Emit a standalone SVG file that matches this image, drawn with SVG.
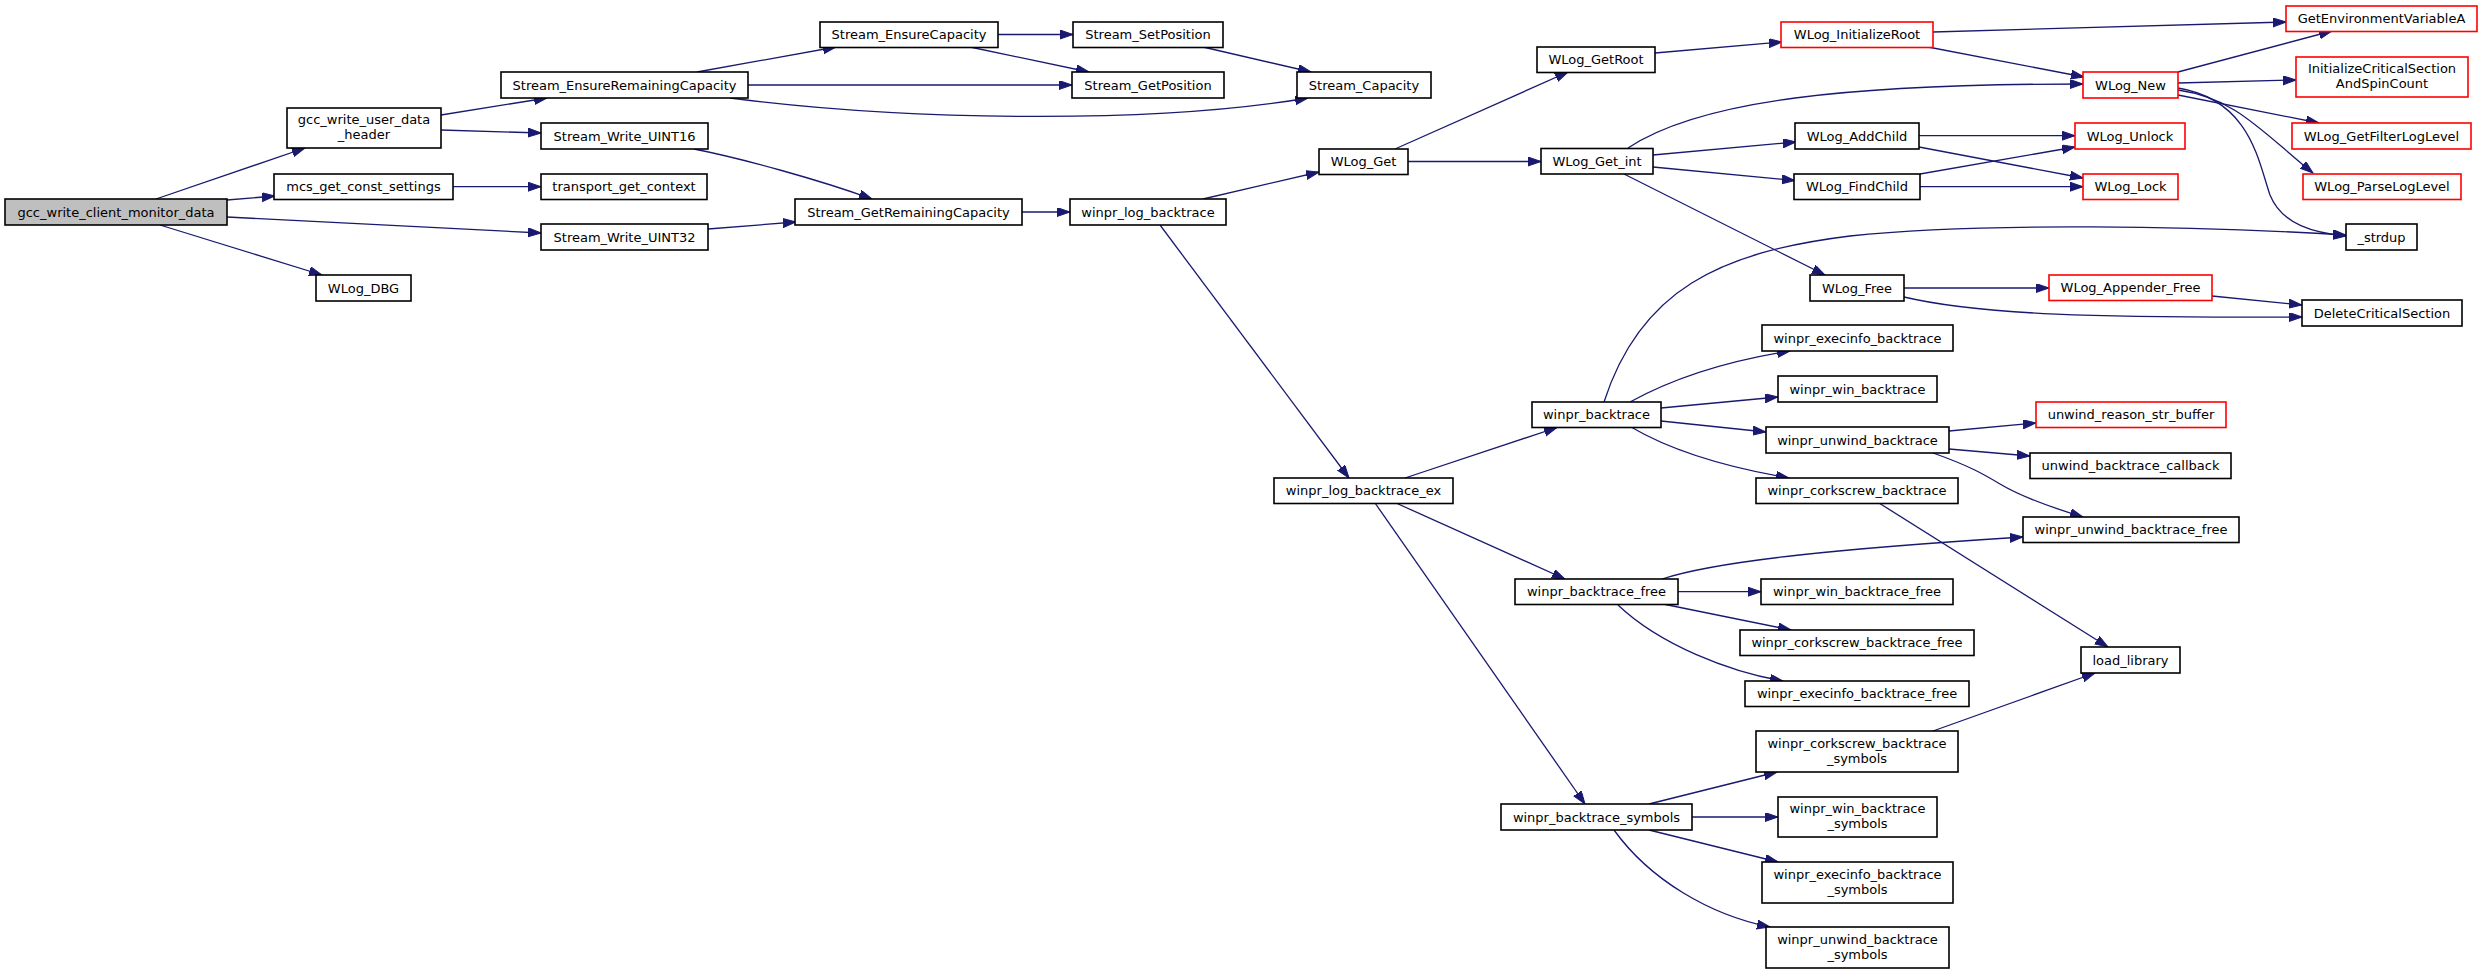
<svg xmlns="http://www.w3.org/2000/svg" width="2483" height="974" viewBox="0 0 2483 974">
<style>
.node rect{fill:#ffffff;stroke:#000000;stroke-width:1.6}
.node.red rect{stroke:#ff0000}
.node.root rect{fill:#bfbfbf}
.node text{font-family:"DejaVu Sans","Liberation Sans",sans-serif;font-size:13px;fill:#000000;text-anchor:middle}
#edges path{fill:none;stroke:#191970;stroke-width:1.3;marker-end:url(#arr)}
</style>
<defs>
<marker id="arr" markerUnits="userSpaceOnUse" markerWidth="14" markerHeight="10" refX="13" refY="4.5" orient="auto">
<path d="M0,0 L13,4.5 L0,9 z" fill="#191970" stroke="#191970" stroke-width="1"/>
</marker>
</defs>
<rect x="0" y="0" width="2483" height="974" fill="#ffffff"/>
<g id="edges">
<path d="M156,199 L305,148"/>
<path d="M227,200 L275,196"/>
<path d="M227,217 L541,233"/>
<path d="M160,225 L322,275"/>
<path d="M441,115 L547,98"/>
<path d="M441,130 L541,133"/>
<path d="M453,186.7 L541,186.7"/>
<path d="M694,149 C740,158 820,180 872,199"/>
<path d="M708,229 L796,222"/>
<path d="M697,72 L836,47"/>
<path d="M748,85 L1072,85"/>
<path d="M730,98 C900,120 1150,125 1308,98"/>
<path d="M998,34.5 L1073,34.5"/>
<path d="M970,47 L1089,72"/>
<path d="M1203,47 L1311,72"/>
<path d="M1022,212 L1070,212"/>
<path d="M1203,199 L1319,172"/>
<path d="M1160,225 L1349,478"/>
<path d="M1395,149 L1568,72"/>
<path d="M1408,161.5 L1541,161.5"/>
<path d="M1655,53 L1782,42"/>
<path d="M1933,32 L2286,22"/>
<path d="M1928,47 L2084,77"/>
<path d="M1628,148 C1700,100 1850,84 2083,84"/>
<path d="M1653,155 L1796,142"/>
<path d="M1653,167 L1795,180.5"/>
<path d="M1624,174 L1825,275"/>
<path d="M1919,135.7 L2075,135.7"/>
<path d="M1919,147 L2083,178"/>
<path d="M1920,174 L2075,147"/>
<path d="M1920,186.7 L2083,186.7"/>
<path d="M2178,72 L2332,31"/>
<path d="M2178,83 L2296,80"/>
<path d="M2178,95 L2319,123"/>
<path d="M2178,90 C2235,98 2260,130 2313,173"/>
<path d="M2178,88 C2250,100 2258,160 2270,195 C2282,225 2315,233 2346,236"/>
<path d="M1904,288 L2049,288"/>
<path d="M1904,297 C1980,315 2100,318 2302,317"/>
<path d="M2212,296 L2302,305"/>
<path d="M1604,402 C1640,290 1720,252 1850,236 C1980,222 2200,226 2346,235"/>
<path d="M1405,478 L1557,427.5"/>
<path d="M1396,503 L1565,579"/>
<path d="M1375,503 L1585,804"/>
<path d="M1630,402 C1670,380 1720,362 1790,351"/>
<path d="M1661,408 L1778,397"/>
<path d="M1661,421 L1766,432"/>
<path d="M1631,427 C1670,450 1725,467 1789,478"/>
<path d="M1949,431 L2036,423"/>
<path d="M1949,449 L2030,456"/>
<path d="M1933,453 C1970,466 1985,475 2000,484 C2020,496 2050,507 2083,517"/>
<path d="M1879,503 L2108,647"/>
<path d="M1662,579 C1720,560 1850,548 2023,537"/>
<path d="M1678,591.7 L1761,591.7"/>
<path d="M1663,604 L1791,630"/>
<path d="M1618,605 C1660,645 1730,672 1783,681"/>
<path d="M1933,731 L2095,673"/>
<path d="M1649,804 L1777,772"/>
<path d="M1692,817 L1778,817"/>
<path d="M1649,830 L1778,862"/>
<path d="M1614,830 C1650,880 1710,915 1770,927"/>
</g>
<g id="gcc_write_client_monitor_data" class="node root"><rect x="5" y="199" width="222" height="26"/><text x="116" y="216.5">gcc_write_client_monitor_data</text></g>
<g id="gcc_write_user_data_header" class="node"><rect x="287" y="108" width="154" height="40"/><text x="364" y="124">gcc_write_user_data</text><text x="364" y="139">_header</text></g>
<g id="mcs_get_const_settings" class="node"><rect x="274" y="174" width="179" height="25.5"/><text x="363.5" y="191">mcs_get_const_settings</text></g>
<g id="WLog_DBG" class="node"><rect x="316" y="275" width="95" height="26"/><text x="363.5" y="292.5">WLog_DBG</text></g>
<g id="Stream_EnsureRemainingCapacity" class="node"><rect x="501" y="72" width="247" height="26"/><text x="624.5" y="89.5">Stream_EnsureRemainingCapacity</text></g>
<g id="Stream_Write_UINT16" class="node"><rect x="541" y="123" width="167" height="26"/><text x="624.5" y="140.5">Stream_Write_UINT16</text></g>
<g id="transport_get_context" class="node"><rect x="541" y="174" width="166" height="25.5"/><text x="624" y="191">transport_get_context</text></g>
<g id="Stream_Write_UINT32" class="node"><rect x="541" y="224" width="167" height="26"/><text x="624.5" y="241.5">Stream_Write_UINT32</text></g>
<g id="Stream_EnsureCapacity" class="node"><rect x="820" y="22" width="178" height="25.5"/><text x="909" y="39.2">Stream_EnsureCapacity</text></g>
<g id="Stream_SetPosition" class="node"><rect x="1073" y="22" width="150" height="25.5"/><text x="1148" y="39.2">Stream_SetPosition</text></g>
<g id="Stream_GetPosition" class="node"><rect x="1072" y="72" width="152" height="26"/><text x="1148" y="89.5">Stream_GetPosition</text></g>
<g id="Stream_Capacity" class="node"><rect x="1297" y="72" width="134" height="26"/><text x="1364" y="89.5">Stream_Capacity</text></g>
<g id="Stream_GetRemainingCapacity" class="node"><rect x="795" y="199" width="227" height="26"/><text x="908.5" y="216.5">Stream_GetRemainingCapacity</text></g>
<g id="winpr_log_backtrace" class="node"><rect x="1070" y="199" width="156" height="26"/><text x="1148" y="216.5">winpr_log_backtrace</text></g>
<g id="WLog_Get" class="node"><rect x="1319" y="149" width="89" height="25.5"/><text x="1363.5" y="166">WLog_Get</text></g>
<g id="WLog_GetRoot" class="node"><rect x="1537" y="47" width="118" height="25.5"/><text x="1596" y="64.2">WLog_GetRoot</text></g>
<g id="WLog_Get_int" class="node"><rect x="1541" y="148.5" width="112" height="25.5"/><text x="1597" y="165.7">WLog_Get_int</text></g>
<g id="WLog_InitializeRoot" class="node red"><rect x="1781" y="22" width="152" height="25.5"/><text x="1857" y="39.2">WLog_InitializeRoot</text></g>
<g id="GetEnvironmentVariableA" class="node red"><rect x="2286" y="6" width="191" height="25.5"/><text x="2381.5" y="23.2">GetEnvironmentVariableA</text></g>
<g id="WLog_New" class="node red"><rect x="2083" y="72" width="95" height="26"/><text x="2130.5" y="89.5">WLog_New</text></g>
<g id="InitializeCriticalSectionAndSpinCount" class="node red"><rect x="2296" y="57" width="172" height="40"/><text x="2382" y="73">InitializeCriticalSection</text><text x="2382" y="88">AndSpinCount</text></g>
<g id="WLog_GetFilterLogLevel" class="node red"><rect x="2292" y="123" width="179" height="26"/><text x="2381.5" y="140.5">WLog_GetFilterLogLevel</text></g>
<g id="WLog_ParseLogLevel" class="node red"><rect x="2303" y="174" width="158" height="25.5"/><text x="2382" y="191">WLog_ParseLogLevel</text></g>
<g id="_strdup" class="node"><rect x="2346" y="224" width="71" height="26"/><text x="2381.5" y="241.5">_strdup</text></g>
<g id="WLog_AddChild" class="node"><rect x="1795" y="123" width="124" height="26"/><text x="1857" y="140.5">WLog_AddChild</text></g>
<g id="WLog_FindChild" class="node"><rect x="1794" y="174" width="126" height="25.5"/><text x="1857" y="191">WLog_FindChild</text></g>
<g id="WLog_Unlock" class="node red"><rect x="2075" y="123" width="110" height="26"/><text x="2130" y="140.5">WLog_Unlock</text></g>
<g id="WLog_Lock" class="node red"><rect x="2083" y="174" width="95" height="25.5"/><text x="2130.5" y="191">WLog_Lock</text></g>
<g id="WLog_Free" class="node"><rect x="1810" y="275" width="94" height="26"/><text x="1857" y="292.5">WLog_Free</text></g>
<g id="WLog_Appender_Free" class="node red"><rect x="2049" y="275" width="163" height="25.5"/><text x="2130.5" y="292">WLog_Appender_Free</text></g>
<g id="DeleteCriticalSection" class="node"><rect x="2302" y="300" width="160" height="26"/><text x="2382" y="317.5">DeleteCriticalSection</text></g>
<g id="winpr_log_backtrace_ex" class="node"><rect x="1274" y="478" width="179" height="25.5"/><text x="1363.5" y="495">winpr_log_backtrace_ex</text></g>
<g id="winpr_backtrace" class="node"><rect x="1532" y="402" width="129" height="25.5"/><text x="1596.5" y="419">winpr_backtrace</text></g>
<g id="winpr_execinfo_backtrace" class="node"><rect x="1762" y="325" width="191" height="26"/><text x="1857.5" y="342.5">winpr_execinfo_backtrace</text></g>
<g id="winpr_win_backtrace" class="node"><rect x="1778" y="376" width="159" height="26"/><text x="1857.5" y="393.5">winpr_win_backtrace</text></g>
<g id="winpr_unwind_backtrace" class="node"><rect x="1766" y="427" width="183" height="26"/><text x="1857.5" y="444.5">winpr_unwind_backtrace</text></g>
<g id="winpr_corkscrew_backtrace" class="node"><rect x="1756" y="478" width="202" height="25.5"/><text x="1857" y="495">winpr_corkscrew_backtrace</text></g>
<g id="unwind_reason_str_buffer" class="node red"><rect x="2036" y="402" width="190" height="25.5"/><text x="2131" y="419">unwind_reason_str_buffer</text></g>
<g id="unwind_backtrace_callback" class="node"><rect x="2030" y="453" width="201" height="25.5"/><text x="2130.5" y="470">unwind_backtrace_callback</text></g>
<g id="winpr_unwind_backtrace_free" class="node"><rect x="2023" y="517" width="216" height="25.5"/><text x="2131" y="534">winpr_unwind_backtrace_free</text></g>
<g id="winpr_backtrace_free" class="node"><rect x="1515" y="579" width="163" height="25.5"/><text x="1596.5" y="596">winpr_backtrace_free</text></g>
<g id="winpr_win_backtrace_free" class="node"><rect x="1761" y="579" width="192" height="25.5"/><text x="1857" y="596">winpr_win_backtrace_free</text></g>
<g id="winpr_corkscrew_backtrace_free" class="node"><rect x="1740" y="630" width="234" height="25.5"/><text x="1857" y="647">winpr_corkscrew_backtrace_free</text></g>
<g id="load_library" class="node"><rect x="2081" y="647" width="99" height="26"/><text x="2130.5" y="664.5">load_library</text></g>
<g id="winpr_execinfo_backtrace_free" class="node"><rect x="1745" y="681" width="224" height="25.5"/><text x="1857" y="698">winpr_execinfo_backtrace_free</text></g>
<g id="winpr_corkscrew_backtrace_symbols" class="node"><rect x="1756" y="731" width="202" height="41"/><text x="1857" y="748">winpr_corkscrew_backtrace</text><text x="1857" y="763">_symbols</text></g>
<g id="winpr_backtrace_symbols" class="node"><rect x="1501" y="804" width="191" height="26"/><text x="1596.5" y="821.5">winpr_backtrace_symbols</text></g>
<g id="winpr_win_backtrace_symbols" class="node"><rect x="1778" y="797" width="159" height="40"/><text x="1857.5" y="813">winpr_win_backtrace</text><text x="1857.5" y="828">_symbols</text></g>
<g id="winpr_execinfo_backtrace_symbols" class="node"><rect x="1762" y="862" width="191" height="41"/><text x="1857.5" y="879">winpr_execinfo_backtrace</text><text x="1857.5" y="894">_symbols</text></g>
<g id="winpr_unwind_backtrace_symbols" class="node"><rect x="1766" y="927" width="183" height="41"/><text x="1857.5" y="944">winpr_unwind_backtrace</text><text x="1857.5" y="959">_symbols</text></g>
</svg>
